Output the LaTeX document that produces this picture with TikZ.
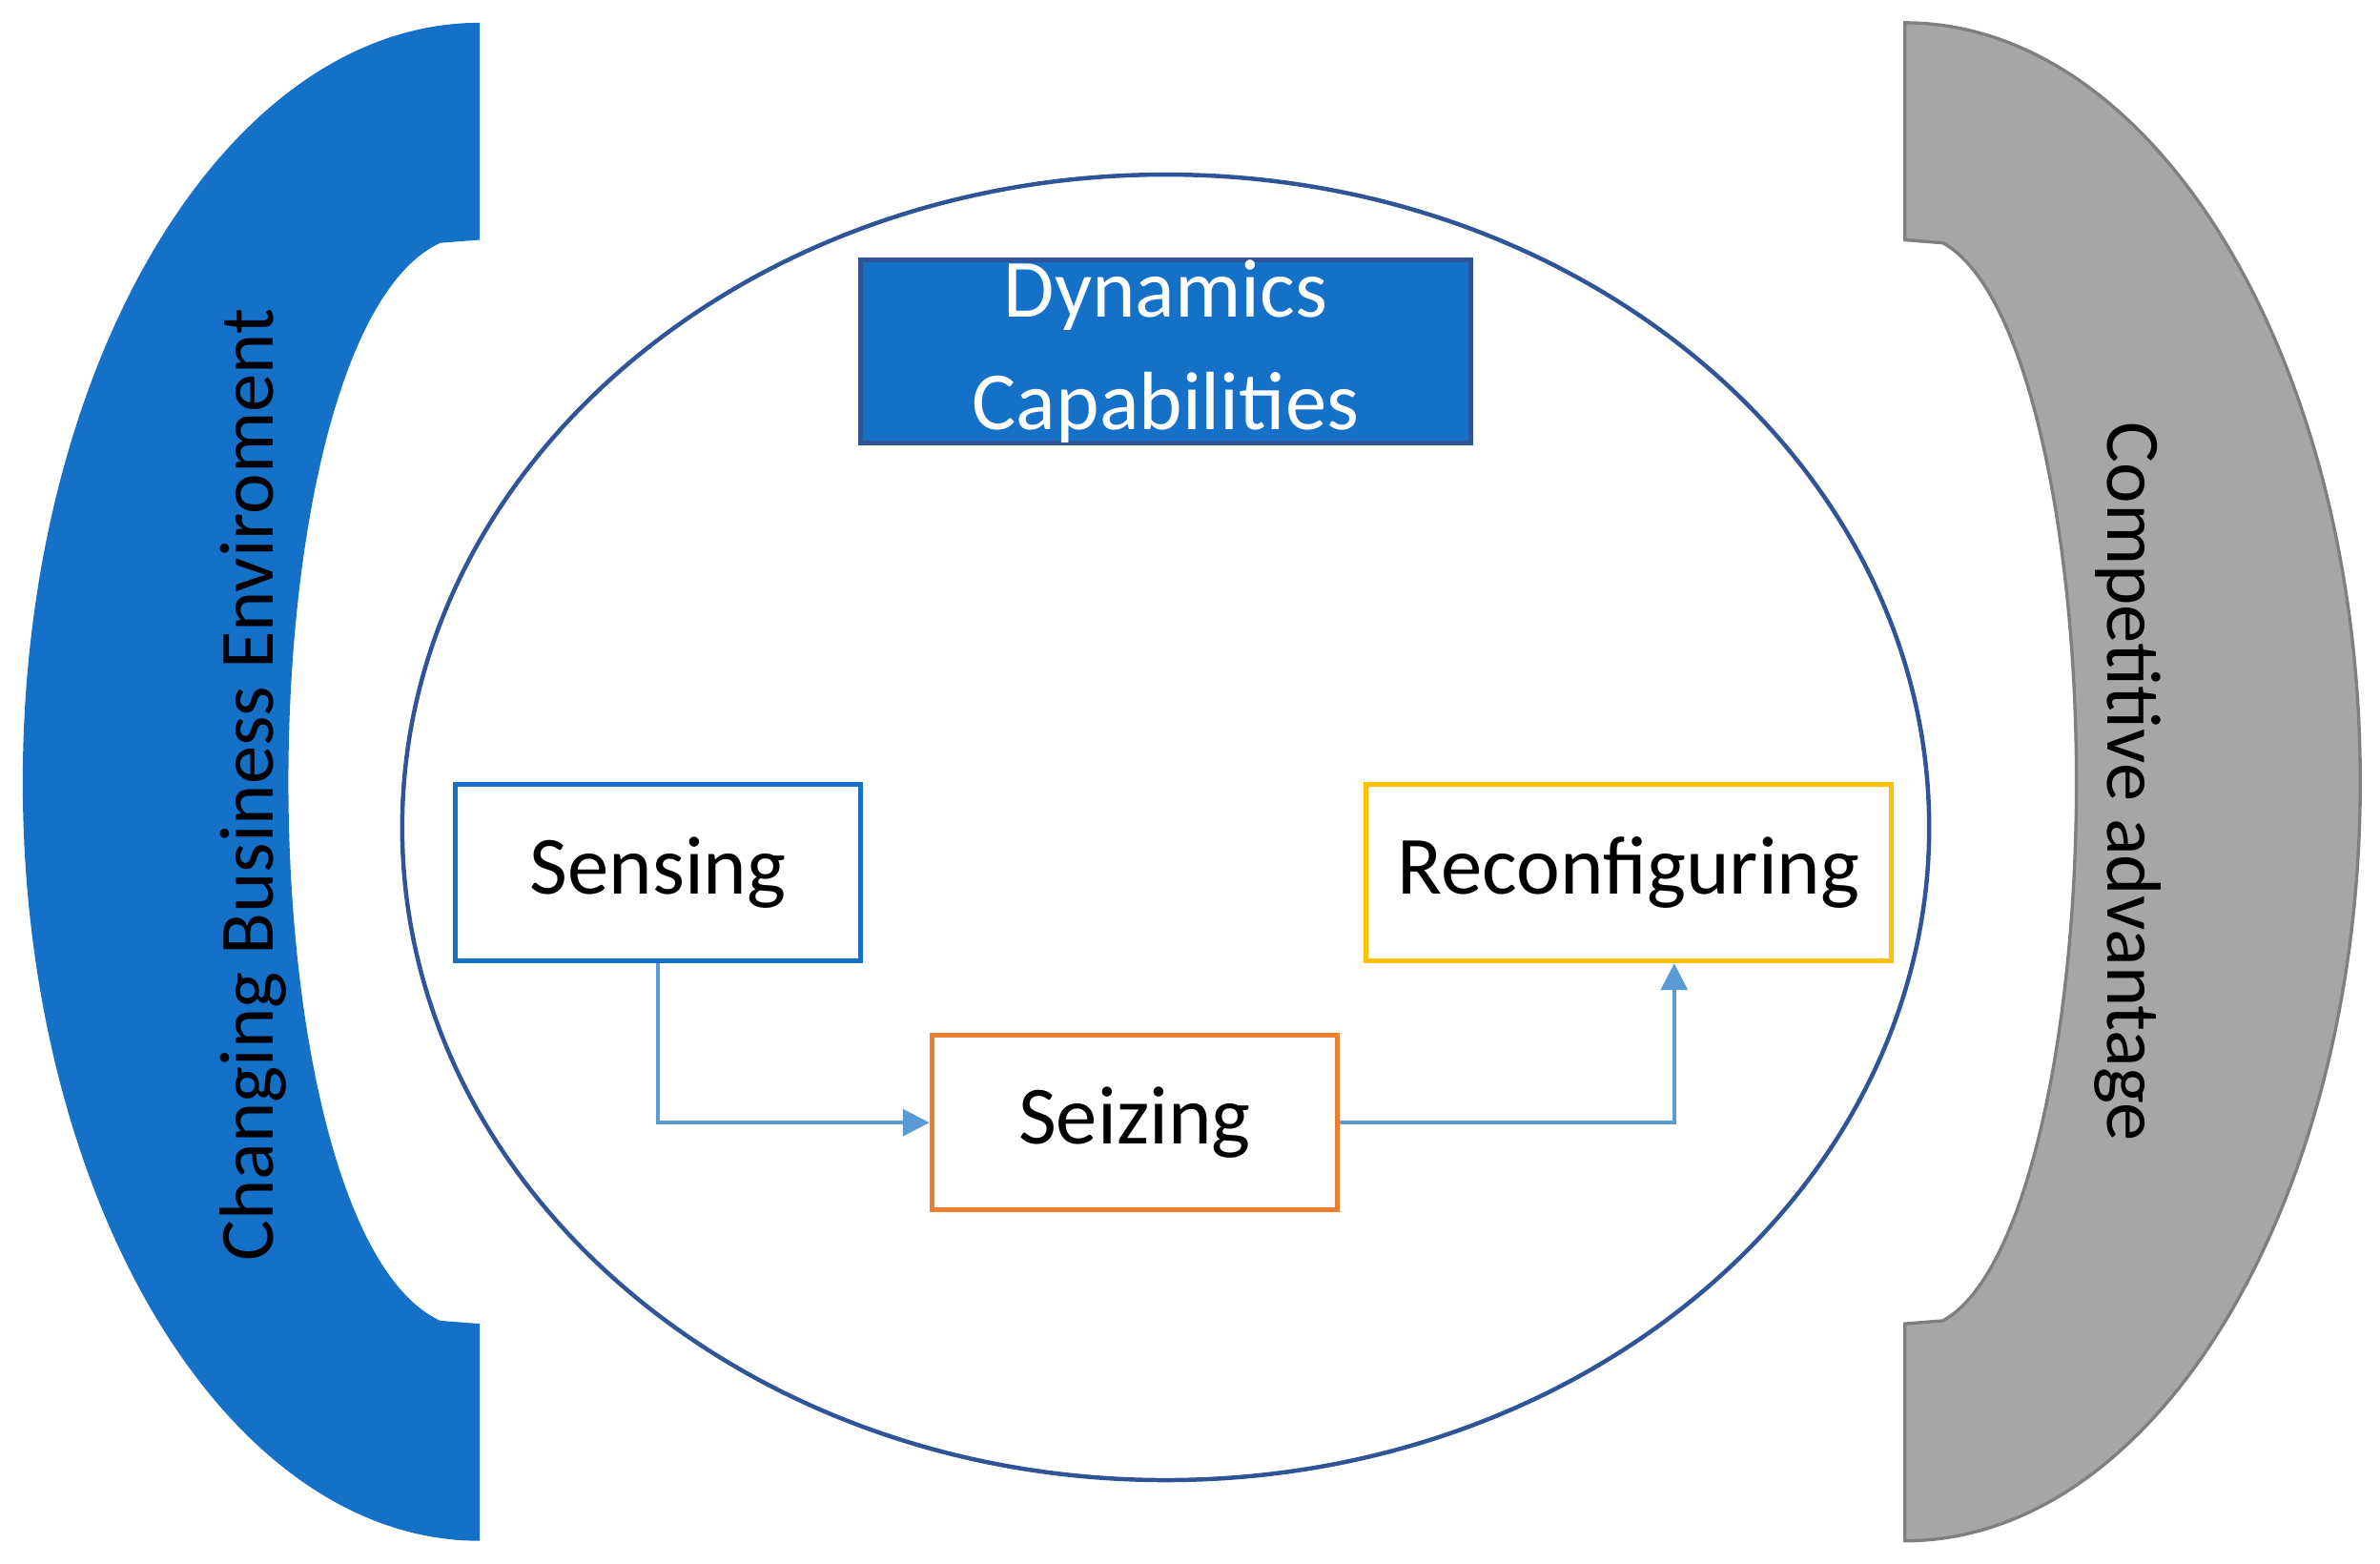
\documentclass[tikz,border=0pt]{standalone}
\usepackage{fontspec}
\setmainfont{Carlito}
\usetikzlibrary{arrows.meta}
\definecolor{bblue}{HTML}{1570C8}
\definecolor{dblue}{HTML}{2F5597}
\definecolor{lblue}{HTML}{5B9BD5}
\definecolor{gold}{HTML}{FFC000}
\definecolor{orng}{HTML}{ED7D31}
\definecolor{gfill}{HTML}{A6A6A6}
\definecolor{gline}{HTML}{7F7F7F}
\begin{document}
\begin{tikzpicture}[x=0.01cm,y=-0.01cm,
  box/.style={draw,line width=0.9pt,fill=white,font=\fontsize{15.5}{18}\selectfont,inner sep=0pt},
  arr/.style={lblue,line width=0.6pt,-{Triangle[length=5pt,width=5pt]}}]
\useasboundingbox (0,0) rectangle (1568,1030);
% left bracket
\fill[bblue] (316,15) arc[start angle=90,end angle=270,x radius=301,y radius=-500] -- (316,872) -- (290,870)
  .. controls (225,840) and (190,680) .. (190,515) .. controls (190,350) and (225,190) .. (290,160) -- (316,158) -- cycle;
% right bracket
\filldraw[fill=gfill,draw=gline,line width=0.6pt] (1255,15) arc[start angle=90,end angle=-90,x radius=300,y radius=-500] -- (1255,872) -- (1280,870)
  .. controls (1335,840) and (1368,680) .. (1368,515) .. controls (1368,350) and (1335,190) .. (1280,160) -- (1255,158) -- cycle;
% ellipse
\draw[dblue,line width=0.8pt] (768,545) ellipse[x radius=503,y radius=-430];
\node[rotate=90,font=\fontsize{14.4}{17}\selectfont] (cbe) at (167,517) {Changing Business Enviroment};
\node[rotate=-90,font=\fontsize{14.4}{17}\selectfont] (ca) at (1402,515) {Competitive advantage};
\node[draw=dblue,fill=bblue,line width=0.9pt,text=white,minimum width=4.02cm,minimum height=1.17cm,inner sep=0pt,align=center,font=\fontsize{15.5}{21}\selectfont] (dc) at (768,231.5) {Dynamics\\Capabilities};
\node[box,draw=bblue,minimum width=2.67cm,minimum height=1.16cm] (sen) at (433.5,575) {Sensing};
\node[box,draw=gold,minimum width=3.46cm,minimum height=1.16cm] (rec) at (1073,575) {Reconfiguring};
\node[box,draw=orng,minimum width=2.67cm,minimum height=1.15cm] (sei) at (747.5,739.5) {Seizing};
\draw[arr] (sen.south) |- (sei.west);
\draw[arr] (sei.east) -| ([xshift=0.3cm]rec.south);
\end{tikzpicture}
\end{document}
